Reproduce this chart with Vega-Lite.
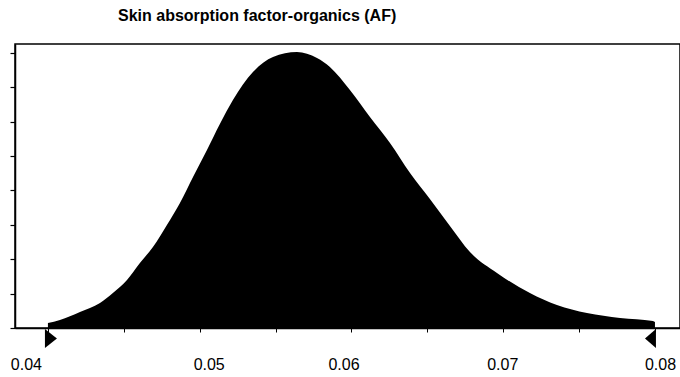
{
  "$schema": "https://vega.github.io/schema/vega-lite/v6.json",
  "width": 665,
  "height": 284,
  "autosize": {"type": "none"},
  "padding": {"left": 15, "top": 44, "right": 0, "bottom": 49},
  "background": "white",
  "title": {
    "text": "Skin absorption factor-organics (AF)",
    "anchor": "start",
    "dx": 110,
    "fontSize": 16,
    "fontWeight": "bold",
    "font": "Liberation Sans",
    "color": "black",
    "offset": 20
  },
  "config": {
    "view": {"stroke": "black", "strokeWidth": 1.5},
    "axis": {"grid": false, "domainColor": "black", "domainWidth": 1.5, "tickColor": "black", "labelColor": "black", "labelFont": "Liberation Sans", "title": null}
  },
  "datasets": {
    "dist": [
      {"x": 0.04, "density": 0.145},
      {"x": 0.04079, "density": 0.233},
      {"x": 0.04211, "density": 0.465},
      {"x": 0.04343, "density": 0.727},
      {"x": 0.04428, "density": 1.017},
      {"x": 0.04521, "density": 1.395},
      {"x": 0.04606, "density": 1.89},
      {"x": 0.04692, "density": 2.355},
      {"x": 0.04784, "density": 2.994},
      {"x": 0.0487, "density": 3.634},
      {"x": 0.04956, "density": 4.39},
      {"x": 0.05048, "density": 5.174},
      {"x": 0.05133, "density": 5.93},
      {"x": 0.05219, "density": 6.628},
      {"x": 0.05351, "density": 7.442},
      {"x": 0.05483, "density": 7.878},
      {"x": 0.05641, "density": 8.023},
      {"x": 0.05773, "density": 7.849},
      {"x": 0.05858, "density": 7.587},
      {"x": 0.0599, "density": 6.919},
      {"x": 0.06122, "density": 6.134},
      {"x": 0.06254, "density": 5.378},
      {"x": 0.06386, "density": 4.506},
      {"x": 0.06517, "density": 3.75},
      {"x": 0.06649, "density": 2.965},
      {"x": 0.06781, "density": 2.209},
      {"x": 0.06959, "density": 1.599},
      {"x": 0.07176, "density": 1.017},
      {"x": 0.07354, "density": 0.669},
      {"x": 0.07552, "density": 0.436},
      {"x": 0.0777, "density": 0.291},
      {"x": 0.07987, "density": 0.203},
      {"x": 0.08, "density": 0.174}
    ],
    "bounds": [
      {"x": 0.04, "density": 0, "side": "lower"},
      {"x": 0.08, "density": 0, "side": "upper"}
    ]
  },
  "encoding": {
    "x": {
      "field": "x",
      "type": "quantitative",
      "scale": {"domain": [0.03783, 0.08165], "nice": false, "zero": false},
      "axis": {
        "values": [0.04, 0.045, 0.05, 0.055, 0.06, 0.065, 0.07, 0.075, 0.08],
        "labelExpr": "abs(datum.value * 100 - round(datum.value * 100)) < 0.01 ? format(datum.value, '.2f') : ''",
        "labelFontSize": 16,
        "labelOverlap": false,
        "tickSize": 4,
        "labelPadding": 24,
        "labelOffset": {
          "condition": [
            {"test": "datum.value < 0.045", "value": -22},
            {"test": "datum.value < 0.055", "value": 9},
            {"test": "datum.value < 0.065", "value": -8},
            {"test": "datum.value < 0.075", "value": -1}
          ],
          "value": 5
        }
      }
    },
    "y": {
      "field": "density",
      "type": "quantitative",
      "scale": {"domain": [0, 8.256], "nice": false},
      "axis": {"values": [0, 1, 2, 3, 4, 5, 6, 7, 8], "tickCount": 9, "labelExpr": "''", "labelOverlap": false, "tickSize": 5, "tickWidth": 1.2}
    }
  },
  "layer": [
    {
      "data": {"name": "dist"},
      "mark": {"type": "area", "color": "black", "interpolate": "monotone"}
    },
    {
      "data": {"name": "bounds"},
      "mark": {"type": "point", "filled": true, "color": "black", "opacity": 1, "size": 400},
      "encoding": {
        "shape": {
          "field": "side",
          "type": "nominal",
          "scale": {"domain": ["lower", "upper"], "range": ["M-0.3,0.1L0.9,1.05L-0.3,2Z", "M0.1,0.1L-1,1.05L0.1,2Z"]},
          "legend": null
        }
      }
    }
  ]
}
